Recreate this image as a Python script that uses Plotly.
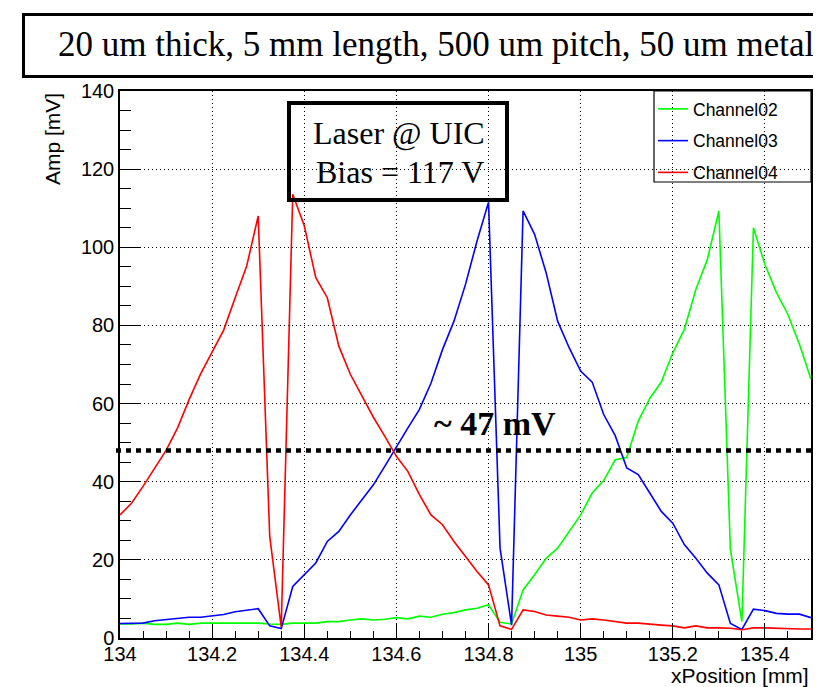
import plotly.graph_objects as go

# ---------------- data ----------------
x_position_mm = [
    134.000, 134.025, 134.050, 134.075, 134.100, 134.125, 134.150, 134.175, 134.200, 134.225,
    134.250, 134.275, 134.300, 134.325, 134.350, 134.375, 134.400, 134.425, 134.450, 134.475,
    134.500, 134.525, 134.550, 134.575, 134.600, 134.625, 134.650, 134.675, 134.700, 134.725,
    134.750, 134.775, 134.800, 134.825, 134.850, 134.875, 134.900, 134.925, 134.950, 134.975,
    135.000, 135.025, 135.050, 135.075, 135.100, 135.125, 135.150, 135.175, 135.200, 135.225,
    135.250, 135.275, 135.300, 135.325, 135.350, 135.375, 135.400, 135.425, 135.450, 135.475,
    135.500,
]

channel02_mv = [
    3.6, 3.6, 3.8, 3.5, 3.5, 3.8, 3.5, 3.8, 3.8, 3.8,
    3.8, 3.8, 3.8, 3.6, 3.5, 3.8, 3.8, 3.8, 4.2, 4.2,
    4.6, 4.9, 4.6, 4.8, 5.2, 4.9, 5.6, 5.3, 6.1, 6.5,
    7.2, 7.6, 8.5, 4.0, 3.6, 12.3, 16.2, 20.4, 23.0, 27.2,
    31.5, 37.1, 40.3, 45.6, 46.2, 55.5, 61.3, 65.5, 73.0, 79.0,
    89.2, 96.9, 109.3, 22.6, 4.2, 105.0, 95.6, 88.4, 82.8, 75.1,
    66.2,
]

channel03_mv = [
    3.7, 3.7, 3.8, 4.4, 4.7, 5.0, 5.3, 5.3, 5.7, 6.0,
    6.7, 7.1, 7.5, 3.1, 2.4, 13.2, 16.2, 19.2, 24.7, 27.3,
    31.5, 35.4, 39.2, 44.0, 49.0, 53.8, 58.5, 65.2, 73.8, 81.1,
    90.5, 101.6, 111.5, 23.0, 3.3, 109.3, 103.3, 93.5, 81.1, 74.3,
    68.3, 65.5, 57.2, 51.8, 43.5, 41.8, 37.1, 32.4, 29.4, 23.9,
    20.4, 16.6, 13.6, 3.7, 2.2, 7.4, 7.0, 6.3, 6.1, 6.1,
    5.2,
]

channel04_mv = [
    31.5, 34.5, 38.8, 43.3, 48.0, 53.8, 61.0, 67.6, 73.4, 78.8,
    87.1, 95.2, 108.0, 26.0, 2.8, 113.6, 105.5, 92.2, 87.1, 74.7,
    67.5, 61.9, 56.5, 51.6, 46.5, 42.6, 36.7, 31.5, 29.0, 24.7,
    20.9, 17.0, 13.6, 3.1, 2.2, 7.2, 6.8, 5.9, 5.6, 5.3,
    4.6, 4.9, 4.6, 4.2, 3.8, 3.8, 3.5, 3.3, 3.1, 2.6,
    3.1, 2.6, 2.6, 2.5, 2.1, 2.6, 2.6, 2.5, 2.3, 2.3,
    2.3,
]

series_names = ["Channel02", "Channel03", "Channel04"]
series_colors = ["#00ff00", "#0000ff", "#ff0000"]

x_tick_values = [134.0, 134.2, 134.4, 134.6, 134.8, 135.0, 135.2, 135.4]
x_tick_labels = ["134", "134.2", "134.4", "134.6", "134.8", "135", "135.2", "135.4"]
y_tick_values = [0, 20, 40, 60, 80, 100, 120, 140]
y_tick_labels = ["0", "20", "40", "60", "80", "100", "120", "140"]

threshold_mv = 48
threshold_label = "~ 47 mV"
title_text = "20 um thick, 5 mm length, 500 um pitch, 50 um metal"
info_lines = ["Laser @ UIC", "Bias = 117 V"]

# ---------------- figure ----------------
fig = go.Figure()
for name, color, ys in zip(series_names, series_colors,
                           [channel02_mv, channel03_mv, channel04_mv]):
    fig.add_trace(go.Scatter(
        x=x_position_mm, y=ys, mode="lines", name=name,
        legendgroup=name,
        line=dict(color=color, width=1.6),
    ))

# page layout (page pixels); the html body adds an 8px offset
OFF = 8
W, H = 821, 687
PL, PR, PT, PB = 120, 811, 91, 638          # plot area in page pixels
L, T = PL - OFF, PT - OFF
R = W - (PR - OFF)
B = H - (PB - OFF)
pw, ph = PR - PL, PB - PT


def px(xp):
    return (xp - PL) / pw


def py(yp):
    return (PB - yp) / ph


sans = "Liberation Sans, Arial, Helvetica, sans-serif"
serif = "Liberation Serif, Times New Roman, serif"

axis_common = dict(
    showline=True, linecolor="black", linewidth=1.5, mirror=True,
    ticks="inside", tickcolor="black", tickwidth=1.3,
    showgrid=True, gridcolor="black", gridwidth=1, griddash="1px,3px",
    zeroline=False, automargin=False,
    tickfont=dict(family=sans, size=20, color="black"),
)

fig.update_xaxes(
    range=[134, 135.5], tickmode="array", tickvals=x_tick_values, ticktext=x_tick_labels,
    ticklen=14, ticklabelstandoff=-3,
    minor=dict(dtick=0.05, ticklen=7, ticks="inside", tickcolor="black", tickwidth=1.3, showgrid=False),
    **axis_common,
)
fig.update_yaxes(
    range=[0, 140], tickmode="array", tickvals=y_tick_values, ticktext=y_tick_labels,
    ticklen=21,
    minor=dict(dtick=5, ticklen=11, ticks="inside", tickcolor="black", tickwidth=1.3, showgrid=False),
    **axis_common,
)

shapes = [
    # legend box (white, covering grid)
    dict(type="rect", xref="paper", yref="paper",
         x0=px(654), x1=px(811), y0=py(182), y1=py(91),
         fillcolor="white", line=dict(color="black", width=1.2), layer="between"),
    # title box
    dict(type="rect", xref="paper", yref="paper",
         x0=px(23.5), x1=px(835), y0=py(76.5), y1=py(14.5),
         line=dict(color="black", width=3), layer="above"),
    # info box
    dict(type="rect", xref="paper", yref="paper",
         x0=px(289), x1=px(507), y0=py(200), y1=py(103),
         line=dict(color="black", width=4), layer="above"),
    # threshold line
    dict(type="line", xref="paper", yref="y",
         x0=px(116), x1=px(823), y0=threshold_mv, y1=threshold_mv,
         line=dict(color="black", width=4.5, dash="5px,5px"), layer="above"),
]

annotations = [
    dict(text=title_text, xref="paper", yref="paper", x=px(56), y=py(45),
         xanchor="left", yanchor="middle", showarrow=False,
         font=dict(family=serif, size=35, color="black")),
    dict(text=info_lines[0], xref="paper", yref="paper", x=px(399), y=py(133),
         xanchor="center", yanchor="middle", showarrow=False,
         font=dict(family=serif, size=32, color="black")),
    dict(text=info_lines[1], xref="paper", yref="paper", x=px(400), y=py(172),
         xanchor="center", yanchor="middle", showarrow=False,
         font=dict(family=serif, size=32, color="black")),
    dict(text="<b>" + threshold_label + "</b>", xref="paper", yref="paper", x=px(495), y=py(423),
         xanchor="center", yanchor="middle", showarrow=False,
         font=dict(family=serif, size=34, color="black")),
    dict(text="Amp [mV]", xref="paper", yref="paper", x=px(52), y=py(139),
         xanchor="center", yanchor="middle", textangle=-90, showarrow=False,
         font=dict(family=sans, size=21, color="black")),
    dict(text="xPosition [mm]", xref="paper", yref="paper", x=1, y=py(675),
         xanchor="right", yanchor="middle", showarrow=False,
         font=dict(family=sans, size=21, color="black")),
]

fig.update_layout(
    width=W, height=H,
    margin=dict(l=L, r=R, t=T, b=B, pad=0, autoexpand=False),
    paper_bgcolor="white", plot_bgcolor="white",
    shapes=shapes, annotations=annotations,
    showlegend=True,
    legend=dict(
        x=px(653), y=py(91), xanchor="left", yanchor="top",
        bgcolor="rgba(0,0,0,0)", borderwidth=0,
        font=dict(family=sans, size=17.5, color="black"),
        traceorder="grouped", tracegroupgap=6,
    ),
)

fig.write_html("out.html")
